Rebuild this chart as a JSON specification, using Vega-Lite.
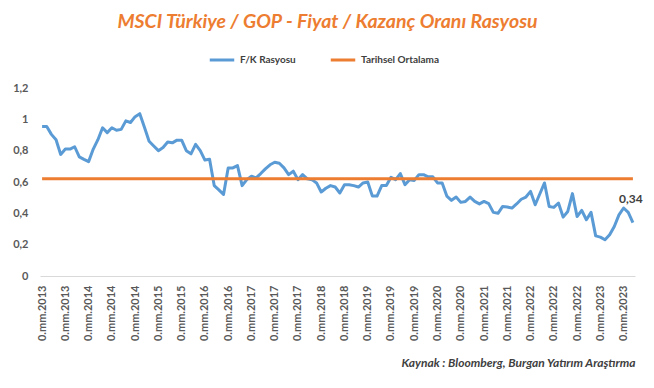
{
  "$schema": "https://vega.github.io/schema/vega-lite/v6.json",
  "autosize": "none",
  "width": 595,
  "height": 188,
  "padding": {"left": 40, "top": 88, "right": 19, "bottom": 112},
  "background": "white",
  "config": {
    "view": {"stroke": null},
    "font": "Lato",
    "axisY": {"labelOverlap": false},
    "locale": {"number": {"decimal": ",", "thousands": ".", "grouping": [3], "currency": ["", " TL"]}}
  },
  "title": {
    "text": "MSCI Türkiye / GOP - Fiyat / Kazanç Oranı Rasyosu",
    "font": "Lato",
    "fontStyle": "italic",
    "fontWeight": "bold",
    "fontSize": 19.5,
    "color": "#ED7D31",
    "anchor": "middle",
    "dx": -10,
    "offset": 14
  },
  "data": {
    "values": [
      {"d": "2013-04", "fk": 0.955, "ort": 0.62},
      {"d": "2013-05", "fk": 0.955, "ort": 0.62},
      {"d": "2013-06", "fk": 0.904, "ort": 0.62},
      {"d": "2013-07", "fk": 0.87, "ort": 0.62},
      {"d": "2013-08", "fk": 0.776, "ort": 0.62},
      {"d": "2013-09", "fk": 0.81, "ort": 0.62},
      {"d": "2013-10", "fk": 0.81, "ort": 0.62},
      {"d": "2013-11", "fk": 0.825, "ort": 0.62},
      {"d": "2013-12", "fk": 0.76, "ort": 0.62},
      {"d": "2014-01", "fk": 0.744, "ort": 0.62},
      {"d": "2014-02", "fk": 0.73, "ort": 0.62},
      {"d": "2014-03", "fk": 0.81, "ort": 0.62},
      {"d": "2014-04", "fk": 0.87, "ort": 0.62},
      {"d": "2014-05", "fk": 0.946, "ort": 0.62},
      {"d": "2014-06", "fk": 0.915, "ort": 0.62},
      {"d": "2014-07", "fk": 0.946, "ort": 0.62},
      {"d": "2014-08", "fk": 0.93, "ort": 0.62},
      {"d": "2014-09", "fk": 0.936, "ort": 0.62},
      {"d": "2014-10", "fk": 0.99, "ort": 0.62},
      {"d": "2014-11", "fk": 0.98, "ort": 0.62},
      {"d": "2014-12", "fk": 1.017, "ort": 0.62},
      {"d": "2015-01", "fk": 1.036, "ort": 0.62},
      {"d": "2015-02", "fk": 0.95, "ort": 0.62},
      {"d": "2015-03", "fk": 0.86, "ort": 0.62},
      {"d": "2015-04", "fk": 0.83, "ort": 0.62},
      {"d": "2015-05", "fk": 0.8, "ort": 0.62},
      {"d": "2015-06", "fk": 0.82, "ort": 0.62},
      {"d": "2015-07", "fk": 0.855, "ort": 0.62},
      {"d": "2015-08", "fk": 0.85, "ort": 0.62},
      {"d": "2015-09", "fk": 0.867, "ort": 0.62},
      {"d": "2015-10", "fk": 0.867, "ort": 0.62},
      {"d": "2015-11", "fk": 0.8, "ort": 0.62},
      {"d": "2015-12", "fk": 0.78, "ort": 0.62},
      {"d": "2016-01", "fk": 0.84, "ort": 0.62},
      {"d": "2016-02", "fk": 0.8, "ort": 0.62},
      {"d": "2016-03", "fk": 0.74, "ort": 0.62},
      {"d": "2016-04", "fk": 0.745, "ort": 0.62},
      {"d": "2016-05", "fk": 0.577, "ort": 0.62},
      {"d": "2016-06", "fk": 0.55, "ort": 0.62},
      {"d": "2016-07", "fk": 0.52, "ort": 0.62},
      {"d": "2016-08", "fk": 0.69, "ort": 0.62},
      {"d": "2016-09", "fk": 0.69, "ort": 0.62},
      {"d": "2016-10", "fk": 0.705, "ort": 0.62},
      {"d": "2016-11", "fk": 0.577, "ort": 0.62},
      {"d": "2016-12", "fk": 0.615, "ort": 0.62},
      {"d": "2017-01", "fk": 0.637, "ort": 0.62},
      {"d": "2017-02", "fk": 0.626, "ort": 0.62},
      {"d": "2017-03", "fk": 0.654, "ort": 0.62},
      {"d": "2017-04", "fk": 0.684, "ort": 0.62},
      {"d": "2017-05", "fk": 0.71, "ort": 0.62},
      {"d": "2017-06", "fk": 0.726, "ort": 0.62},
      {"d": "2017-07", "fk": 0.72, "ort": 0.62},
      {"d": "2017-08", "fk": 0.69, "ort": 0.62},
      {"d": "2017-09", "fk": 0.647, "ort": 0.62},
      {"d": "2017-10", "fk": 0.669, "ort": 0.62},
      {"d": "2017-11", "fk": 0.615, "ort": 0.62},
      {"d": "2017-12", "fk": 0.647, "ort": 0.62},
      {"d": "2018-01", "fk": 0.62, "ort": 0.62},
      {"d": "2018-02", "fk": 0.615, "ort": 0.62},
      {"d": "2018-03", "fk": 0.594, "ort": 0.62},
      {"d": "2018-04", "fk": 0.536, "ort": 0.62},
      {"d": "2018-05", "fk": 0.56, "ort": 0.62},
      {"d": "2018-06", "fk": 0.577, "ort": 0.62},
      {"d": "2018-07", "fk": 0.568, "ort": 0.62},
      {"d": "2018-08", "fk": 0.53, "ort": 0.62},
      {"d": "2018-09", "fk": 0.583, "ort": 0.62},
      {"d": "2018-10", "fk": 0.583, "ort": 0.62},
      {"d": "2018-11", "fk": 0.577, "ort": 0.62},
      {"d": "2018-12", "fk": 0.568, "ort": 0.62},
      {"d": "2019-01", "fk": 0.594, "ort": 0.62},
      {"d": "2019-02", "fk": 0.6, "ort": 0.62},
      {"d": "2019-03", "fk": 0.51, "ort": 0.62},
      {"d": "2019-04", "fk": 0.51, "ort": 0.62},
      {"d": "2019-05", "fk": 0.577, "ort": 0.62},
      {"d": "2019-06", "fk": 0.577, "ort": 0.62},
      {"d": "2019-07", "fk": 0.63, "ort": 0.62},
      {"d": "2019-08", "fk": 0.615, "ort": 0.62},
      {"d": "2019-09", "fk": 0.654, "ort": 0.62},
      {"d": "2019-10", "fk": 0.583, "ort": 0.62},
      {"d": "2019-11", "fk": 0.615, "ort": 0.62},
      {"d": "2019-12", "fk": 0.61, "ort": 0.62},
      {"d": "2020-01", "fk": 0.647, "ort": 0.62},
      {"d": "2020-02", "fk": 0.647, "ort": 0.62},
      {"d": "2020-03", "fk": 0.633, "ort": 0.62},
      {"d": "2020-04", "fk": 0.633, "ort": 0.62},
      {"d": "2020-05", "fk": 0.594, "ort": 0.62},
      {"d": "2020-06", "fk": 0.594, "ort": 0.62},
      {"d": "2020-07", "fk": 0.51, "ort": 0.62},
      {"d": "2020-08", "fk": 0.483, "ort": 0.62},
      {"d": "2020-09", "fk": 0.504, "ort": 0.62},
      {"d": "2020-10", "fk": 0.47, "ort": 0.62},
      {"d": "2020-11", "fk": 0.476, "ort": 0.62},
      {"d": "2020-12", "fk": 0.504, "ort": 0.62},
      {"d": "2021-01", "fk": 0.476, "ort": 0.62},
      {"d": "2021-02", "fk": 0.46, "ort": 0.62},
      {"d": "2021-03", "fk": 0.476, "ort": 0.62},
      {"d": "2021-04", "fk": 0.462, "ort": 0.62},
      {"d": "2021-05", "fk": 0.406, "ort": 0.62},
      {"d": "2021-06", "fk": 0.4, "ort": 0.62},
      {"d": "2021-07", "fk": 0.444, "ort": 0.62},
      {"d": "2021-08", "fk": 0.44, "ort": 0.62},
      {"d": "2021-09", "fk": 0.434, "ort": 0.62},
      {"d": "2021-10", "fk": 0.46, "ort": 0.62},
      {"d": "2021-11", "fk": 0.49, "ort": 0.62},
      {"d": "2021-12", "fk": 0.504, "ort": 0.62},
      {"d": "2022-01", "fk": 0.54, "ort": 0.62},
      {"d": "2022-02", "fk": 0.455, "ort": 0.62},
      {"d": "2022-03", "fk": 0.525, "ort": 0.62},
      {"d": "2022-04", "fk": 0.594, "ort": 0.62},
      {"d": "2022-05", "fk": 0.444, "ort": 0.62},
      {"d": "2022-06", "fk": 0.438, "ort": 0.62},
      {"d": "2022-07", "fk": 0.466, "ort": 0.62},
      {"d": "2022-08", "fk": 0.376, "ort": 0.62},
      {"d": "2022-09", "fk": 0.412, "ort": 0.62},
      {"d": "2022-10", "fk": 0.526, "ort": 0.62},
      {"d": "2022-11", "fk": 0.38, "ort": 0.62},
      {"d": "2022-12", "fk": 0.419, "ort": 0.62},
      {"d": "2023-01", "fk": 0.359, "ort": 0.62},
      {"d": "2023-02", "fk": 0.406, "ort": 0.62},
      {"d": "2023-03", "fk": 0.256, "ort": 0.62},
      {"d": "2023-04", "fk": 0.248, "ort": 0.62},
      {"d": "2023-05", "fk": 0.231, "ort": 0.62},
      {"d": "2023-06", "fk": 0.263, "ort": 0.62},
      {"d": "2023-07", "fk": 0.316, "ort": 0.62},
      {"d": "2023-08", "fk": 0.39, "ort": 0.62},
      {"d": "2023-09", "fk": 0.434, "ort": 0.62},
      {"d": "2023-10", "fk": 0.406, "ort": 0.62},
      {"d": "2023-11", "fk": 0.34, "ort": 0.62}
    ]
  },
  "transform": [{"fold": ["fk", "ort"], "as": ["key", "val"]}],
  "encoding": {
    "x": {
      "field": "d",
      "type": "ordinal",
      "scale": {"type": "point", "padding": 0.45},
      "axis": {
        "values": ["2013-04", "2013-09", "2014-02", "2014-07", "2014-12", "2015-05", "2015-10", "2016-03", "2016-08", "2017-01", "2017-06", "2017-11", "2018-04", "2018-09", "2019-02", "2019-07", "2019-12", "2020-05", "2020-10", "2021-03", "2021-08", "2022-01", "2022-06", "2022-11", "2023-04", "2023-09"],
        "labelExpr": "'0.mm.' + slice(datum.value, 0, 4)",
        "labelAngle": -90,
        "labelFont": "Lato",
        "labelFontSize": 11,
        "labelFontWeight": "bold",
        "labelColor": "#595959",
        "labelPadding": 9,
        "labelOverlap": false,
        "ticks": false,
        "domainColor": "#D9D9D9",
        "domainWidth": 1,
        "grid": false,
        "title": "Kaynak : Bloomberg, Burgan Yatırım Araştırma",
        "titleAnchor": "end",
        "titleFont": "Lato",
        "titleFontSize": 12,
        "titleFontStyle": "italic",
        "titleFontWeight": "bold",
        "titleColor": "#404040",
        "titlePadding": 17
      }
    },
    "y": {
      "field": "val",
      "type": "quantitative",
      "scale": {"domain": [0, 1.2]},
      "axis": {
        "values": [0, 0.2, 0.4, 0.6, 0.8, 1, 1.2],
        "format": ".1~f",
        "labelFont": "Lato",
        "labelFontSize": 11,
        "labelFontWeight": "bold",
        "labelColor": "#595959",
        "labelPadding": 12,
        "labelOverlap": false,
        "ticks": false,
        "domain": false,
        "grid": false,
        "title": null
      }
    }
  },
  "layer": [
    {
      "mark": {"type": "line", "strokeWidth": 3, "strokeJoin": "round", "strokeCap": "butt"},
      "encoding": {
        "color": {
          "field": "key",
          "type": "nominal",
          "scale": {"domain": ["fk", "ort"], "range": ["#5B9BD5", "#ED7D31"]},
          "legend": {
            "title": null,
            "orient": "none",
            "direction": "horizontal",
            "legendX": 168,
            "legendY": -42,
            "labelExpr": "datum.value == 'fk' ? 'F/K Rasyosu' : 'Tarihsel Ortalama'",
            "labelFont": "Lato",
            "labelFontSize": 10,
            "labelFontWeight": "bold",
            "labelColor": "#404040",
            "symbolType": "stroke",
            "symbolStrokeWidth": 3,
            "symbolSize": 600,
            "columnPadding": 28
          }
        }
      }
    },
    {
      "transform": [{"filter": "datum.d == '2023-11' && datum.key == 'fk'"}],
      "mark": {"type": "text", "dy": -24, "dx": -2, "font": "Lato", "fontSize": 12, "fontWeight": "bold", "color": "#404040"},
      "encoding": {
        "text": {"field": "val", "type": "quantitative", "format": ".2f"}
      }
    }
  ]
}
